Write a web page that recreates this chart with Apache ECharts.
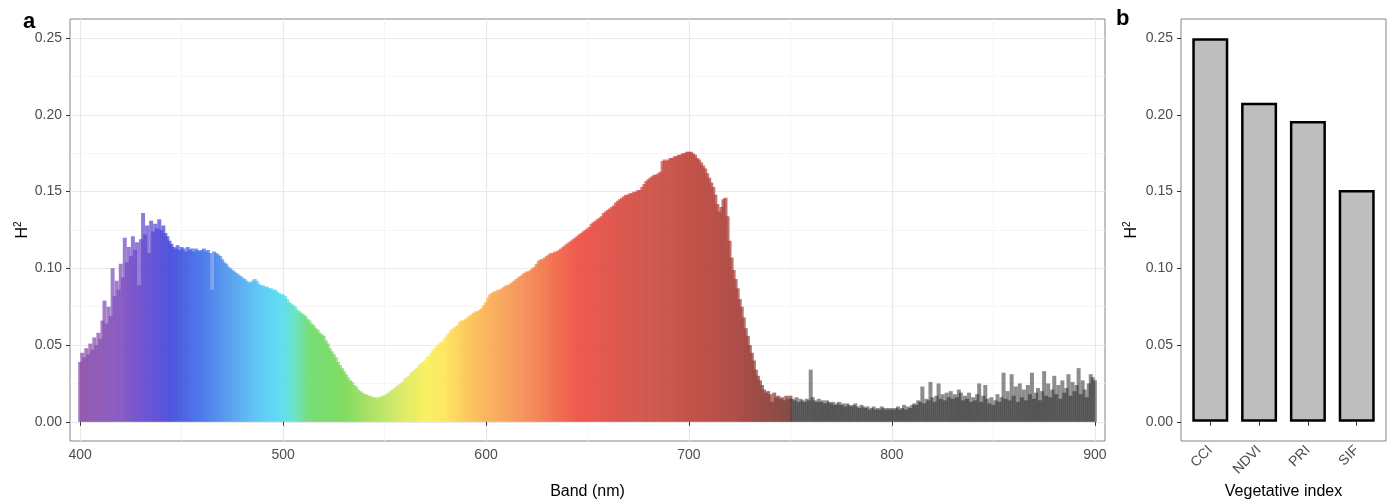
<!DOCTYPE html>
<html><head><meta charset="utf-8">
<script src="https://cdn.jsdelivr.net/npm/echarts@6/dist/echarts.min.js"></script>
<style>html,body{margin:0;padding:0;background:#fff}#c{width:1394px;height:500px}</style>
</head><body><div id="c"></div>
<script>
// ---------- DATA ----------
const bandStart = 400; // first band (nm), one value per nm
const bandValues = [
0.039,0.045,0.042,0.048,0.044,0.051,0.047,0.055,0.050,0.058,
0.054,0.066,0.079,0.064,0.075,0.069,0.100,0.082,0.092,0.086,
0.103,0.094,0.120,0.104,0.114,0.108,0.121,0.112,0.117,0.089,
0.119,0.136,0.122,0.128,0.110,0.131,0.124,0.129,0.126,0.132,
0.125,0.128,0.123,0.121,0.118,0.116,0.114,0.113,0.115,0.112,
0.114,0.113,0.111,0.114,0.112,0.113,0.111,0.113,0.112,0.111,
0.112,0.113,0.111,0.112,0.110,0.086,0.111,0.110,0.109,0.108,
0.106,0.104,0.103,0.101,0.100,0.099,0.098,0.097,0.096,0.095,
0.094,0.093,0.092,0.091,0.091,0.092,0.093,0.092,0.090,0.089,
0.089,0.088,0.088,0.087,0.087,0.086,0.086,0.085,0.084,0.083,
0.083,0.082,0.080,0.078,0.077,0.076,0.075,0.073,0.072,0.071,
0.070,0.069,0.067,0.066,0.064,0.063,0.061,0.060,0.058,0.057,
0.056,0.053,0.051,0.048,0.046,0.044,0.042,0.039,0.037,0.035,
0.033,0.031,0.029,0.027,0.026,0.024,0.023,0.021,0.020,0.019,
0.018,0.018,0.017,0.017,0.016,0.016,0.015,0.016,0.016,0.017,
0.017,0.018,0.019,0.020,0.021,0.022,0.023,0.024,0.025,0.026,
0.028,0.029,0.030,0.032,0.033,0.034,0.035,0.037,0.038,0.039,
0.040,0.042,0.043,0.045,0.047,0.048,0.050,0.051,0.052,0.053,
0.055,0.057,0.058,0.060,0.061,0.062,0.063,0.065,0.066,0.066,
0.067,0.068,0.069,0.070,0.071,0.072,0.072,0.073,0.074,0.076,
0.078,0.081,0.083,0.084,0.085,0.085,0.086,0.086,0.087,0.088,
0.089,0.089,0.090,0.091,0.092,0.093,0.094,0.095,0.096,0.097,
0.098,0.098,0.099,0.100,0.101,0.103,0.105,0.106,0.106,0.107,
0.108,0.109,0.110,0.110,0.111,0.111,0.112,0.113,0.114,0.115,
0.116,0.117,0.118,0.119,0.120,0.121,0.122,0.123,0.124,0.125,
0.126,0.127,0.129,0.130,0.131,0.132,0.133,0.134,0.136,0.137,
0.138,0.139,0.140,0.141,0.143,0.144,0.145,0.146,0.147,0.148,
0.148,0.149,0.149,0.150,0.150,0.151,0.151,0.153,0.155,0.157,
0.158,0.159,0.160,0.161,0.161,0.162,0.163,0.170,0.171,0.170,
0.171,0.172,0.172,0.173,0.173,0.174,0.174,0.175,0.175,0.176,
0.176,0.176,0.175,0.174,0.172,0.171,0.169,0.167,0.165,0.162,
0.159,0.156,0.153,0.148,0.142,0.137,0.140,0.145,0.146,0.134,
0.118,0.107,0.099,0.093,0.087,0.080,0.075,0.068,0.061,0.056,
0.050,0.045,0.040,0.034,0.030,0.027,0.024,0.021,0.019,0.020,
0.018,0.013,0.019,0.016,0.017,0.015,0.016,0.014,0.017,0.015,
0.017,0.015,0.014,0.016,0.013,0.015,0.014,0.013,0.015,0.014,
0.034,0.016,0.014,0.013,0.015,0.013,0.014,0.012,0.014,0.013,
0.012,0.013,0.011,0.012,0.013,0.011,0.012,0.010,0.012,0.011,
0.010,0.011,0.012,0.010,0.009,0.011,0.010,0.009,0.010,0.008,
0.009,0.010,0.008,0.009,0.008,0.010,0.009,0.008,0.009,0.008,
0.009,0.008,0.009,0.010,0.008,0.009,0.011,0.008,0.010,0.009,
0.011,0.012,0.011,0.014,0.013,0.023,0.012,0.015,0.014,0.026,
0.016,0.013,0.017,0.025,0.015,0.018,0.014,0.019,0.016,0.020,
0.015,0.018,0.016,0.021,0.019,0.014,0.017,0.015,0.019,0.013,
0.016,0.014,0.018,0.025,0.013,0.017,0.024,0.015,0.012,0.016,
0.011,0.014,0.018,0.013,0.016,0.032,0.015,0.020,0.014,0.031,
0.017,0.023,0.013,0.025,0.016,0.021,0.014,0.024,0.018,0.032,
0.015,0.019,0.022,0.014,0.020,0.033,0.017,0.025,0.016,0.021,
0.030,0.018,0.024,0.015,0.027,0.019,0.022,0.031,0.017,0.026,
0.020,0.024,0.035,0.018,0.027,0.021,0.016,0.025,0.031,0.029,
0.027
];
const indexNames = ['CCI', 'NDVI', 'PRI', 'SIF'];
const indexValues = [0.250, 0.208, 0.196, 0.151];
const bandTicks = [400, 500, 600, 700, 800, 900];
const bandMinorTicks = [450, 550, 650, 750, 850];
const h2Ticks = [0, 0.05, 0.10, 0.15, 0.20, 0.25];
const h2MinorTicks = [0.025, 0.075, 0.125, 0.175, 0.225];

// ---------- STYLE ----------
const FONT = 'Liberation Sans, Arial, Helvetica, sans-serif';
const spectrumStops = [
  [400,'#8b4aa8'],[420,'#7d4cc0'],[435,'#5a44d0'],[445,'#3b44d6'],[460,'#3f6ee8'],
  [475,'#4a9af0'],[490,'#4ec8f8'],[500,'#55dcec'],[506,'#5ce0c0'],[513,'#6ad86a'],
  [530,'#74d855'],[545,'#a8e055'],[557,'#d4e858'],[570,'#f6ef55'],[580,'#fde454'],
  [590,'#fbc450'],[602,'#f9ac4f'],[615,'#f7904b'],[630,'#f27046'],[645,'#ea4a3e'],
  [665,'#d84a40'],[695,'#c4443a'],[720,'#a83e36'],[740,'#8a3a34'],[750,'#7a3632']
];
const NIR_COLOR = '#1c1c1c';
function hex2rgb(h){return [1,3,5].map(i=>parseInt(h.substr(i,2),16));}
function colorAt(nm){
  if (nm > 750) return NIR_COLOR;
  for (let i=1;i<spectrumStops.length;i++){
    const [a,ca]=spectrumStops[i-1],[b,cb]=spectrumStops[i];
    if (nm<=b){
      const t=(nm-a)/(b-a), A=hex2rgb(ca), B=hex2rgb(cb);
      return 'rgb('+A.map((v,k)=>Math.round(v+(B[k]-v)*t)).join(',')+')';
    }
  }
  return spectrumStops[spectrumStops.length-1][1];
}

const bandData = bandValues.map((v,i)=>{
  const nm = bandStart + i;
  return {value:[nm, v], itemStyle:{color: colorAt(nm), opacity: nm > 750 ? 0.5 : 0.72}};
});

const labelStyle = {color:'#4d4d4d', fontSize:14, fontFamily:FONT};
const tickStyle = {show:true, length:4, lineStyle:{color:'#333', width:1}};
const h2Name = {
  name:'H{s|2}', nameLocation:'middle', nameRotate:90, nameMoveOverlap:false,
  nameTextStyle:{color:'#000', fontSize:16, fontFamily:FONT, lineHeight:20,
    rich:{s:{fontSize:10, fontFamily:FONT, verticalAlign:'top', lineHeight:20}}}
};
const fmt2 = v => v.toFixed(2);

const chart = echarts.init(document.getElementById('c'), null, {renderer:'canvas'});
chart.setOption({
  animation:false,
  backgroundColor:'#fff',
  graphic:[
    {type:'text', left:23, top:11, style:{text:'a', fontSize:22, fontWeight:'bold', fontFamily:FONT, fill:'#000'}},
    {type:'text', left:1116, top:8, style:{text:'b', fontSize:22, fontWeight:'bold', fontFamily:FONT, fill:'#000'}}
  ],
  grid:[
    {left:70, top:19, width:1035, height:422, show:true, borderColor:'#858585', borderWidth:1,
     backgroundColor:'transparent', containLabel:false, outerBoundsMode:'none'},
    {left:1181, top:19, width:205, height:422, show:true, borderColor:'#858585', borderWidth:1,
     backgroundColor:'transparent', containLabel:false, outerBoundsMode:'none'}
  ],
  xAxis:[
    {gridIndex:0, type:'value', min:395, max:905,
     axisLine:{show:false}, axisTick:Object.assign({customValues:bandTicks}, tickStyle),
     axisLabel:Object.assign({customValues:bandTicks, margin:7}, labelStyle),
     splitLine:{show:true, lineStyle:{color:'#e8e8e8', width:1.2}},
     name:'Band (nm)', nameLocation:'middle', nameGap:43,
     nameTextStyle:{color:'#000', fontSize:16, fontFamily:FONT}},
    {gridIndex:0, type:'value', min:395, max:905,
     axisLine:{show:false}, axisTick:{show:false, customValues:bandMinorTicks},
     axisLabel:{show:false, customValues:bandMinorTicks},
     splitLine:{show:true, lineStyle:{color:'#f4f4f4', width:0.8}}},
    {gridIndex:1, type:'value', min:0.4, max:4.6,
     axisLine:{show:false}, axisTick:Object.assign({customValues:[1,2,3,4]}, tickStyle),
     axisLabel:Object.assign({customValues:[1,2,3,4], rotate:45, margin:7,
        formatter: v => indexNames[Math.round(v)-1]}, labelStyle),
     splitLine:{show:false},
     name:'Vegetative index', nameLocation:'middle', nameGap:42,
     nameTextStyle:{color:'#000', fontSize:16, fontFamily:FONT}}
  ],
  yAxis:[
    Object.assign({gridIndex:0, type:'value', min:-0.0125, max:0.2625,
     axisLine:{show:false}, axisTick:Object.assign({customValues:h2Ticks}, tickStyle),
     axisLabel:Object.assign({customValues:h2Ticks, margin:8, formatter:fmt2}, labelStyle),
     splitLine:{show:true, lineStyle:{color:'#e8e8e8', width:1.2}}, nameGap:37}, h2Name),
    {gridIndex:0, type:'value', min:-0.0125, max:0.2625,
     axisLine:{show:false}, axisTick:{show:false, customValues:h2MinorTicks},
     axisLabel:{show:false, customValues:h2MinorTicks},
     splitLine:{show:true, lineStyle:{color:'#f4f4f4', width:0.8}}},
    Object.assign({gridIndex:1, type:'value', min:-0.0125, max:0.2625,
     axisLine:{show:false}, axisTick:Object.assign({customValues:h2Ticks}, tickStyle),
     axisLabel:Object.assign({customValues:h2Ticks, margin:8, formatter:fmt2}, labelStyle),
     splitLine:{show:false}, nameGap:39}, h2Name)
  ],
  series:[
    {type:'bar', xAxisIndex:0, yAxisIndex:0, data:bandData, barWidth:4, large:false, z:3},
    {type:'bar', xAxisIndex:2, yAxisIndex:2, barWidth:36,
     data:indexValues.map((v,i)=>[i+1, v]),
     itemStyle:{color:'#bebebe', borderColor:'#000', borderWidth:2.5}, z:3}
  ]
});
</script>
</body></html>
